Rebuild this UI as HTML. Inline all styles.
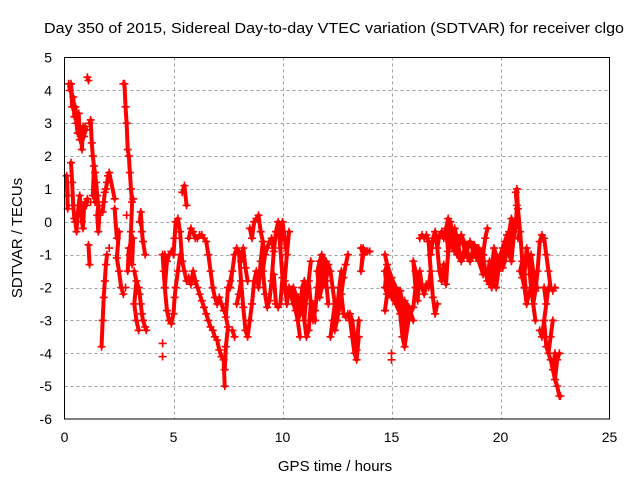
<!DOCTYPE html>
<html><head><meta charset="utf-8">
<style>
body{margin:0;background:#fff;}
svg{display:block;font-family:"Liberation Sans","DejaVu Sans",sans-serif;}
</style></head>
<body>
<svg id="chart" width="640" height="480" viewBox="0 0 640 480">
<rect width="640" height="480" fill="#fff"/>
<text x="44" y="33" font-size="15" textLength="580" lengthAdjust="spacingAndGlyphs" fill="#000">Day 350 of 2015, Sidereal Day-to-day VTEC variation (SDTVAR) for receiver clgo</text>
<g id="grid"></g>
<g id="ticks"></g>
<g id="marks"></g>
<rect x="64.5" y="57.5" width="545" height="361.5" fill="none" stroke="#000" stroke-width="1"/>
<text x="335" y="471" font-size="15" text-anchor="middle">GPS time / hours</text>
<text x="0" y="0" font-size="15" text-anchor="middle" transform="translate(22,238) rotate(-90)">SDTVAR / TECUs</text>
</svg>
<script>
const xTicks=[0,5,10,15,20,25];
const yTicks=[5,4,3,2,1,0,-1,-2,-3,-4,-5,-6];
const hours=[0.1,0.15,0.2,0.25,0.3,0.35,0.4,0.45,0.5,0.55,0.6,0.65,0.7,0.75,0.8,0.85,0.9,0.95,1.0,1.05,1.1,1.15,1.2,1.25,1.3,1.35,1.4,1.45,1.5,1.55,1.6,1.7,1.75,1.8,1.85,1.9,1.95,2.0,2.05,2.3,2.4,2.5,2.6,2.7,2.75,2.8,2.85,2.9,2.95,3.0,3.05,3.1,3.15,3.2,3.3,3.4,3.45,3.5,3.55,3.6,3.7,3.75,
4.5,4.55,4.6,4.7,4.8,4.9,5.0,5.05,5.1,5.2,5.3,5.4,5.5,5.6,5.7,5.8,5.9,6.0,6.1,6.2,6.3,6.4,6.5,6.6,6.7,6.8,6.9,7.0,7.1,7.2,7.3,7.35,7.4,7.5,7.6,7.7,7.8,7.9,8.0,8.1,8.2,8.3,8.4,8.5,8.6,8.7,8.8,8.9,9.0,9.1,9.2,9.3,9.4,9.5,9.6,9.7,9.8,9.9,10.0,10.1,10.2,10.3,10.5,10.6,10.7,10.8,10.9,11.0,11.1,11.2,11.3,11.4,11.5,11.6,11.7,11.8,
12.0,12.1,12.2,12.3,12.4,12.5,12.6,12.7,12.8,12.9,13.0,13.1,13.2,13.3,13.4,13.5,13.6,13.7,13.8,13.9,14.0,14.7,14.8,15.0,15.2,15.4,15.5,15.6,15.8,16.0,16.1,16.2,16.3,16.4,16.5,16.6,16.7,16.8,16.9,17.0,17.1,17.2,17.3,17.4,17.5,17.6,17.7,17.8,17.9,18.0,18.2,18.4,18.6,18.8,19.0,19.2,19.3,19.4,19.5,19.6,19.7,19.8,19.9,20.0,20.1,20.2,20.3,20.4,20.5,20.6,20.7,20.75,20.8,20.9,21.0,21.1,21.2,21.3,21.4,21.5,21.6,21.7,21.8,21.9,22.0,22.1,22.2,22.3,22.4,22.5,22.6,22.7,22.75];
const values=[[1.4],[0.8,0.4],[4.2],[4.0],[4.2,1.8],[3.5,1.2],[3.8,0.5],[3.2,0.1],[3.5,0.0],[3.0,-0.3],[2.7,0.2],[3.3,0.5],[2.5,0.8],[2.8,0.4],[2.2,0.0],[2.9,-0.2],[2.6,0.5],[2.9,0.6],[2.8,0.5],[4.4,0.7],[4.3,-0.7],[3.0,-1.3],[3.1,0.6],[2.4],[2.0,0.8],[1.7],[1.5,0.6],[1.2],[0.8,0.2],[0.5,-0.3],[0.2],[-3.8],[0.3,-3.0],[0.6,-2.3],[0.9,-1.8],[1.0,-1.3],[1.2,-1.0],[1.4],[1.5,-0.8],[0.7,0.4],[-0.5,-1.1],[-1.5,-0.3],[-2.0],[-2.2,4.2],[4.2],[3.5,-2.0],[3.0,0.2],[2.2,-1.5],[2.0,-0.8],[1.5,-1.0],[1.0,-0.3],[0.6,-1.3],[0.7,-0.5],[-1.5,-2.5],[-1.8,-3.0],[-2.0,-3.3],[-2.2,0.0],[-2.5,0.3],[-2.8,-0.3],[-3.0,-0.6],[-3.2,-1.0],[-3.3],
[-3.7,-4.1,-1.0],[-1.5],[-2.0,-1.0],[-2.7,-1.2],[-3.0,-1.0],[-3.1,-0.9],[-2.8,-1.0],[-2.3,-0.5],[-2.0,0.0],[-1.5,0.1],[-1.0,-0.3],[-1.2,0.9],[-1.5,1.1],[-1.8,0.5],[-1.7,-0.5],[-1.9,-0.2],[-1.5,-0.3],[-0.5,-1.8],[-0.5,-2.0],[-0.4,-2.2],[-0.4,-2.4],[-0.5,-2.6],[-0.6,-2.8],[-1.0,-3.0],[-1.5,-3.2],[-2.0,-3.3],[-2.3,-3.5],[-2.5,-3.6],[-2.3,-3.9],[-2.5,-4.1],[-2.7,-4.2],[-4.5,-5.0],[-2.9,-3.8],[-3.2,-2.0],[-1.8,-2.0],[-3.3,-1.5],[-3.5,-1.0],[-2.5,-0.8],[-2.2,-0.9],[-1.8,-1.2],[-2.6,-0.8],[-3.3,-1.4],[-3.5,-1.8],[-3.0,-0.2],[-2.5,-0.5],[-1.8,0.0],[-1.5,0.1],[-2.0,0.2],[-1.2,-0.3],[-1.5,-0.6],[-2.2,-1.0],[-2.6,-0.8],[-2.4,-0.6],[-1.8,-0.5],[-1.6,-0.9],[-2.5,-0.3],[-2.6,0.0],[-2.5,-0.8],[-1.7,0.0],[-1.8,-0.5],[-2.5,-1.0],[-2.0,-0.3],[-2.5,-2.0],[-2.7,-2.2],[-2.3,-3.0],[-2.8,-3.5],[-2.5,-2.0],[-3.0,-1.8],[-2.2,-3.5],[-1.8,-3.3],[-1.2,-2.5],[-2.5,-3.0],[-2.7,-3.0],[-1.5,-2.0],[-1.2,-2.3],[-1.0,-2.0],
[-1.8,-1.2],[-1.3,-2.5],[-1.5,-3.5],[-2.0,-3.0],[-2.5,-3.3],[-3.0,-2.7],[-2.6,-2.0],[-2.2,-1.5],[-1.7,-2.8],[-1.3,-2.9],[-1.0,-2.8],[-2.8,-3.0],[-3.0,-3.5],[-3.5,-4.0],[-3.9,-4.2],[-3.5,-3.0],[-0.8,-1.5],[-0.8,-1.0],[-0.9],[-0.9],[-0.9],[-1.0,-1.5,-2.0,-2.7],[-1.3,-2.2],[-1.7,-4.0,-4.2,-2.3],[-2.0,-2.5],[-2.1,-2.8],[-2.5,-3.0,-3.5],[-3.0,-2.4,-3.8],[-2.6,-2.9],[-1.2,-2.6,-3.0],[-1.5,-2.0],[-1.8,-2.4],[-0.5,-1.5],[-0.4,-2.0],[-0.5,-2.2],[-0.4,-1.9],[-0.6,-2.0],[-1.0,-1.5],[-0.5,-2.3],[-0.3,-2.8],[-0.8,-2.5],[-0.4,-1.5],[-0.3,-1.8],[-0.5,-1.3],[-0.2,-1.9],[0.1,-0.9],[0.0,-0.6],[-0.4,-0.8],[-0.2,-0.9],[-0.5,-1.0],[-0.4,-1.2],[-0.7,-1.0],[-0.6,-1.2],[-0.7,-1.0],[-0.8,-1.2],[-1.0,-1.6],[-0.5,-1.5],[-0.2,-1.8],[-1.2,-1.9],[-1.5,-2.0],[-1.7,-0.8],[-2.0,-1.0],[-1.5,-1.2],[-1.0,-1.3],[-0.8,-1.4],[-0.6,-1.2],[-0.4,-0.8],[-0.3,-1.0],[0.1,-1.2],[-0.5,-0.1],[0.9,-0.2],[1.0,0.5],[0.4,-0.5],[-0.3,-1.5],[-1.2,-1.7],[-1.6,-2.0],[-0.8,-2.5],[-1.2,-2.2],[-1.0,-2.0],[-2.5,-1.5],[-2.1,-3.0],[-1.5,-2.0],[-0.6,-3.3],[-0.4,-3.5],[-0.5,-2.0,-3.0],[-1.0,-2.5,-3.8],[-1.5,-2.0,-4.0],[-2.0,-3.5,-4.2],[-2.1,-3.0,-4.5],[-2.0,-4.0,-4.8],[-4.2,-5.0],[-4.0,-5.3],[-5.3]];

const X0=64.5,X1=609.5,Y0=419,Y1=57.5;
function xs(h){return X0+(h-0)/(25-0)*(X1-X0);}
function ys(v){return Y0-(v+6)/(5+6)*(Y0-Y1);}
const NS="http://www.w3.org/2000/svg";
const grid=document.getElementById('grid'),ticks=document.getElementById('ticks'),marks=document.getElementById('marks');
function mk(tag,attrs,parent){const e=document.createElementNS(NS,tag);for(const k in attrs)e.setAttribute(k,attrs[k]);parent.appendChild(e);return e;}
xTicks.forEach(t=>{
  const x=Math.round(xs(t))+0.5;
  if(t>0&&t<25){const g=mk('line',{x1:x,x2:x,y1:Y1,y2:Y0,stroke:'#a0a0a0','stroke-dasharray':'3,3'},grid);
    
    }
  const l=mk('text',{x:xs(t),y:442,'font-size':14,'text-anchor':'middle'},ticks);
  l.textContent=t;
  
  
});
yTicks.forEach(t=>{
  const y=Math.round(ys(t))+0.5;
  if(t<5&&t>-6){const g=mk('line',{x1:X0,x2:X1,y1:y,y2:y,stroke:'#a0a0a0','stroke-dasharray':'3,3'},grid);
    
    }
  const l=mk('text',{x:52,y:ys(t)+5,'font-size':14,'text-anchor':'end'},ticks);
  l.textContent=t;
  
  
});
let d='',trace='';
hours.forEach((h,i)=>{
  const vs=values[i]||[];
  vs.forEach(v=>{
    const x=xs(h),y=ys(v);
    d+=`M${x-4} ${y}h8M${x} ${y-4}v8`;
    if(i+1<hours.length&&hours[i+1]-h<=0.25){
      (values[i+1]||[]).forEach(w=>{
        if(Math.abs(w-v)<1.0){trace+=`M${x} ${y}L${xs(hours[i+1])} ${ys(w)}`;}
      });
    }
  });
});
const b=mk('path',{d:trace,stroke:'#ff0000','stroke-width':4,'stroke-linecap':'round',fill:'none'},marks);


const p=mk('path',{d:d,stroke:'#ff0000','stroke-width':1.6,fill:'none'},marks);


</script>
</body></html>
